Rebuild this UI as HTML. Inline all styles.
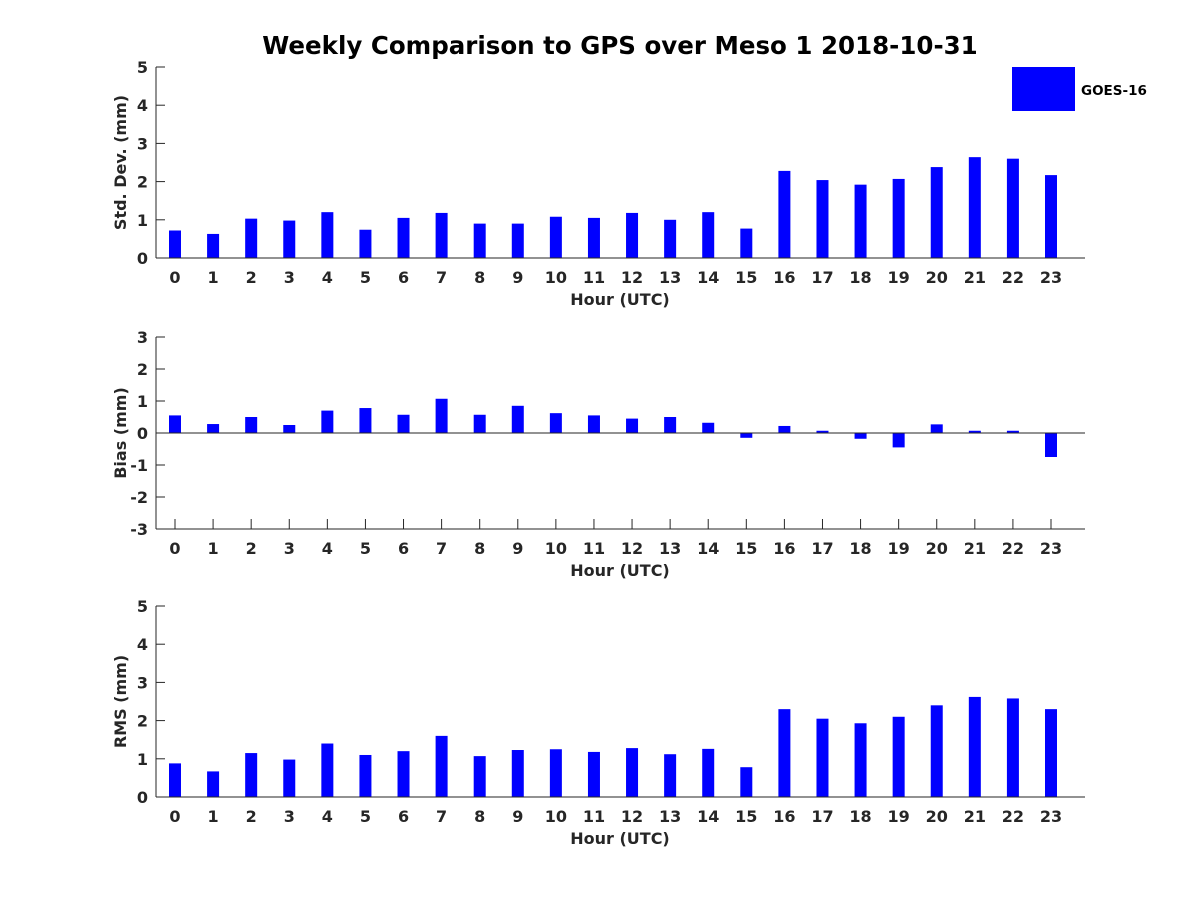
<!DOCTYPE html>
<html><head><meta charset="utf-8"><style>
body{margin:0;background:#fff}
svg text{font-family:"DejaVu Sans","Liberation Sans",sans-serif;font-weight:bold;fill:#262626}
</style></head><body>
<svg id="c" width="1200" height="900" xmlns="http://www.w3.org/2000/svg">
<text x="620" y="54" text-anchor="middle" font-size="24.5" style="fill:#000">Weekly Comparison to GPS over Meso 1 2018-10-31</text>
<rect x="1012" y="67" width="63" height="44" fill="#0000ff"/>
<text x="1081" y="95" font-size="13.5" style="fill:#000">GOES-16</text>
</svg>
<script>
const hours=[0,1,2,3,4,5,6,7,8,9,10,11,12,13,14,15,16,17,18,19,20,21,22,23];
const stdValues=[0.72,0.63,1.03,0.98,1.2,0.74,1.05,1.18,0.9,0.9,1.08,1.05,1.18,1.0,1.2,0.77,2.28,2.04,1.92,2.07,2.38,2.64,2.6,2.17];
const biasValues=[0.55,0.28,0.5,0.25,0.7,0.78,0.57,1.07,0.57,0.85,0.62,0.55,0.45,0.5,0.32,-0.15,0.22,0.07,-0.18,-0.45,0.27,0.07,0.07,-0.75];
const rmsValues=[0.88,0.67,1.15,0.98,1.4,1.1,1.2,1.6,1.07,1.23,1.25,1.18,1.28,1.12,1.26,0.78,2.3,2.05,1.93,2.1,2.4,2.62,2.58,2.3];
const stdTicks=[0,1,2,3,4,5];
const biasTicks=[-3,-2,-1,0,1,2,3];
const rmsTicks=[0,1,2,3,4,5];
const svg=document.getElementById('c');const NS='http://www.w3.org/2000/svg';
function mk(t,a,p){const e=document.createElementNS(NS,t);for(const k in a)e.setAttribute(k,a[k]);(p||svg).appendChild(e);return e;}
const X0=156,X1=1085;
const xs=h=>175+h*(1051-175)/23;
function panel(name,top,bot,ymin,ymax,vals,ticks,ylabel){
  const g=mk('g',{});
  
  
  const ys=v=>bot-(v-ymin)/(ymax-ymin)*(bot-top);
  hours.forEach(h=>{
    mk('line',{x1:xs(h),y1:bot,x2:xs(h),y2:bot-10,stroke:'#262626'},g);
    const tx=mk('text',{x:xs(h),y:bot+25,'text-anchor':'middle','font-size':16},g);tx.textContent=h;
    
    
  });
  ticks.forEach(t=>{
    mk('line',{x1:X0,y1:ys(t),x2:X0+9,y2:ys(t),stroke:'#262626'},g);
    const tx=mk('text',{x:X0-8,y:ys(t)+6,'text-anchor':'end','font-size':16},g);tx.textContent=t;
    
    
  });
  vals.forEach((v,i)=>{
    const y0=ys(0),y1=ys(v);
    const r=mk('rect',{x:xs(hours[i])-6,y:Math.min(y0,y1),width:12,height:Math.abs(y1-y0),fill:'#0000ff'},g);
    
    
  });
  mk('line',{x1:X0,y1:top,x2:X0,y2:bot,stroke:'#262626','stroke-width':1},g);
  mk('line',{x1:X0,y1:bot,x2:X1,y2:bot,stroke:'#262626','stroke-width':1},g);
  if(ymin<0) mk('line',{x1:X0,y1:ys(0),x2:X1,y2:ys(0),stroke:'#262626','stroke-width':1},g);
  const xl=mk('text',{x:620,y:bot+47,'text-anchor':'middle','font-size':16},g);xl.textContent='Hour (UTC)';
  
  
  const yl=mk('text',{x:0,y:0,'text-anchor':'middle','font-size':16,transform:`translate(126,${(top+bot)/2}) rotate(-90)`},g);yl.textContent=ylabel;
  
  
}
panel('std-dev',67,258,0,5,stdValues,stdTicks,'Std. Dev. (mm)');
panel('bias',337,529,-3,3,biasValues,biasTicks,'Bias (mm)');
panel('rms',606,797,0,5,rmsValues,rmsTicks,'RMS (mm)');
</script>
</body></html>
